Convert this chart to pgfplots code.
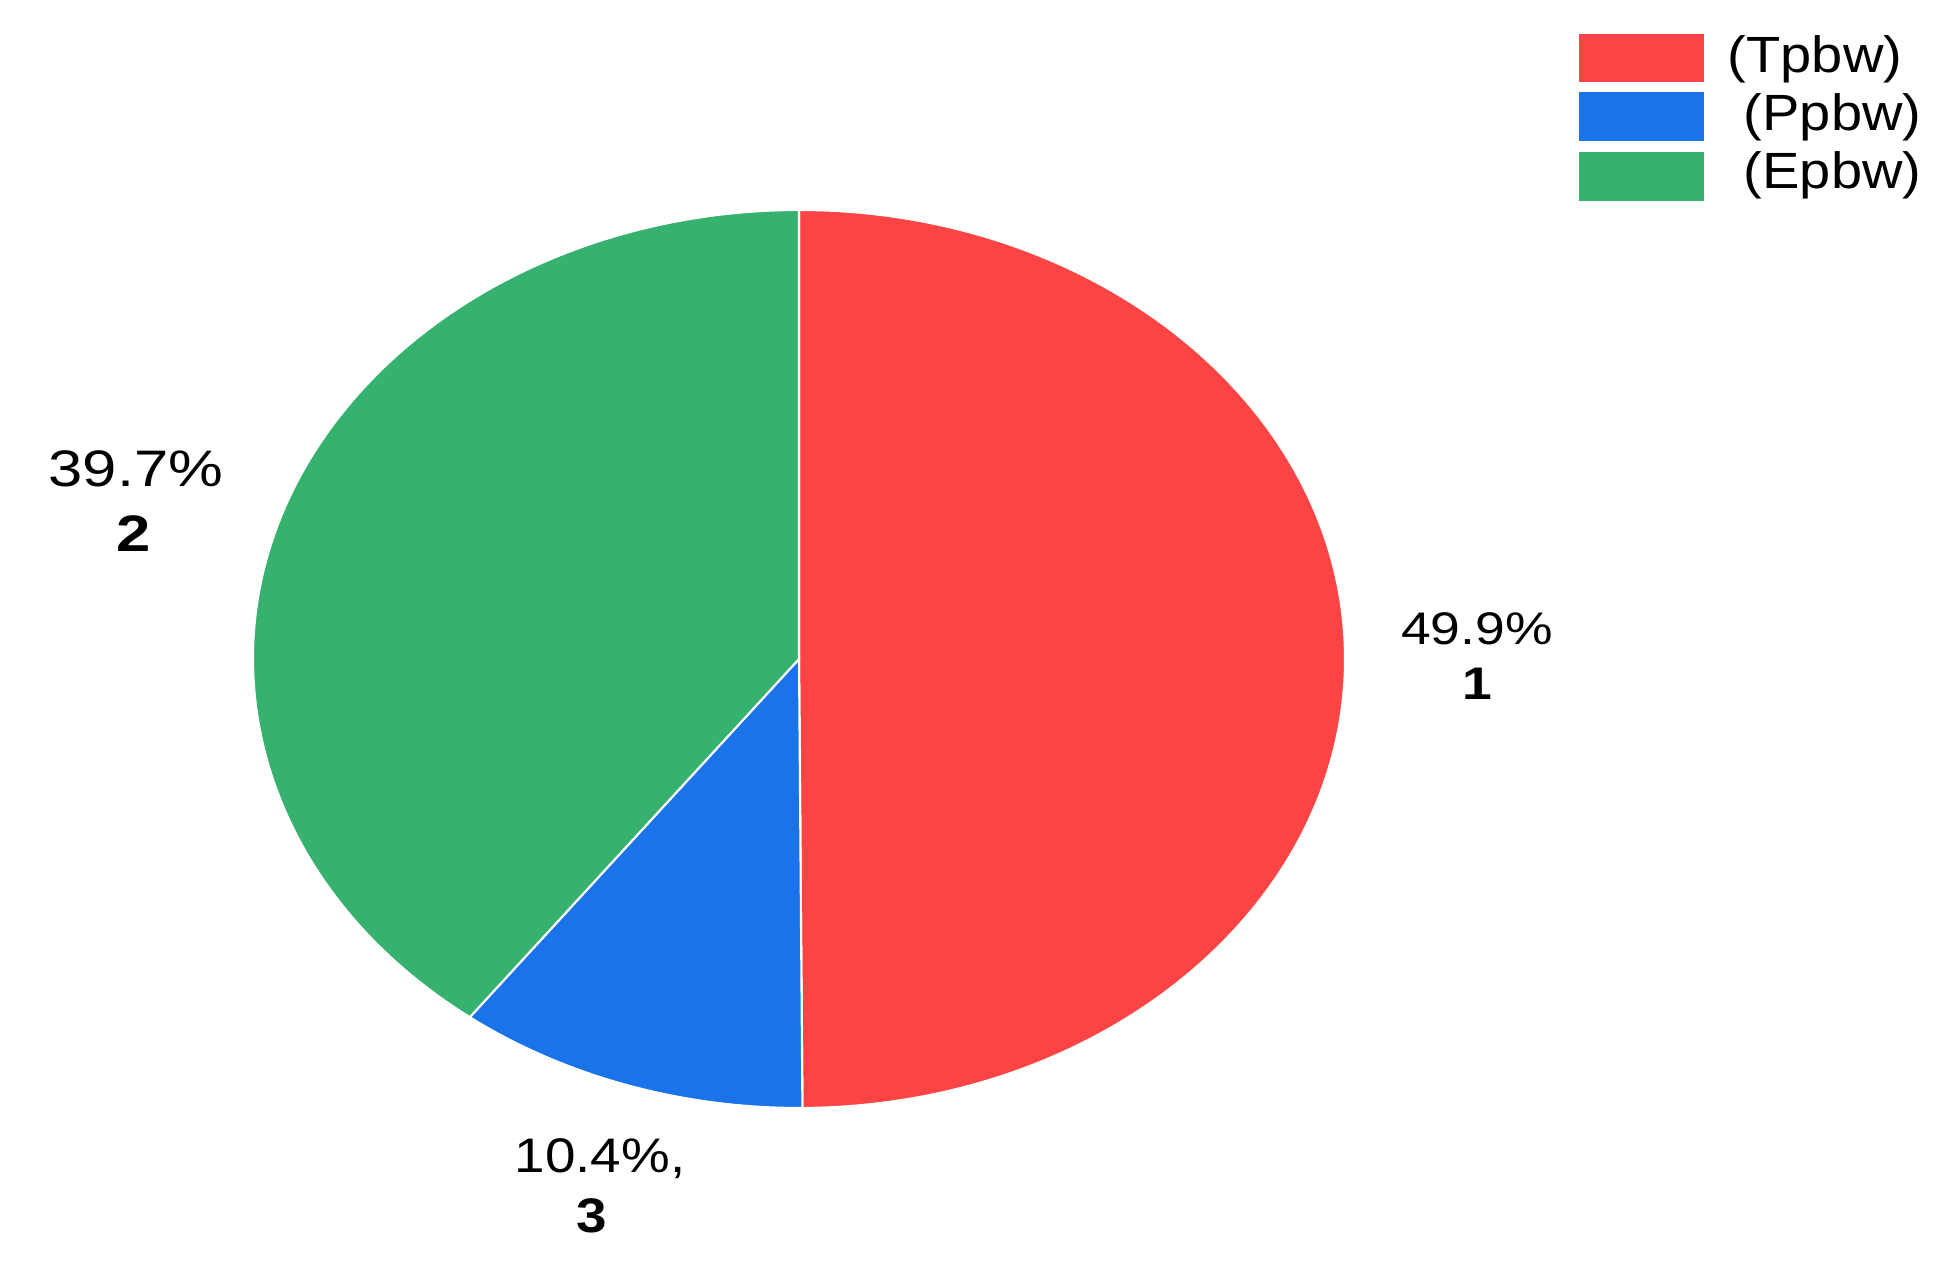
\documentclass[border=0pt]{standalone}
\usepackage{fontspec}
\setmainfont{Liberation Sans}
\usepackage{pgfplots}
\usepackage{pgfplotstable}
\pgfplotsset{compat=1.18}
\definecolor{cred}{HTML}{FC4444}
\definecolor{cblue}{HTML}{1A73E8}
\definecolor{cgreen}{HTML}{36B26E}
\pgfplotstableread{
label pct
1 49.9
3 10.4
2 39.7
}\datatable
\begin{document}
\begin{tikzpicture}
\pgfplotstablegetelem{0}{pct}\of\datatable \let\pa\pgfplotsretval
\pgfplotstablegetelem{1}{pct}\of\datatable \let\pb\pgfplotsretval
\pgfplotstablegetelem{2}{pct}\of\datatable \let\pc\pgfplotsretval
\pgfmathsetmacro{\aA}{90}
\pgfmathsetmacro{\aB}{90-3.6*\pa}
\pgfmathsetmacro{\aC}{\aB-3.6*\pb}
\pgfmathsetmacro{\aD}{\aC-3.6*\pc}
\begin{axis}[scale only axis, width=19.57cm, height=12.76cm,
  xmin=0, xmax=1957, ymin=0, ymax=1276, hide axis, clip=false]
\path (axis cs:0,0) rectangle (axis cs:1957,1276);
\fill[cred, draw=white, line width=0.6pt] (axis cs:799,617) -- (axis cs:{799+546*cos(\aA)},{617+449*sin(\aA)}) arc[start angle=\aA, end angle=\aB, x radius=5.46cm, y radius=4.49cm] -- cycle;
\fill[cblue, draw=white, line width=0.6pt] (axis cs:799,617) -- (axis cs:{799+546*cos(\aB)},{617+449*sin(\aB)}) arc[start angle=\aB, end angle=\aC, x radius=5.46cm, y radius=4.49cm] -- cycle;
\fill[cgreen, draw=white, line width=0.6pt] (axis cs:799,617) -- (axis cs:{799+546*cos(\aC)},{617+449*sin(\aC)}) arc[start angle=\aC, end angle=\aD, x radius=5.46cm, y radius=4.49cm] -- cycle;
\node[anchor=base, inner sep=0pt, xscale=1.17, font=\fontsize{13}{15}\selectfont] at (axis cs:1477,631) {49.9\%};
\node[anchor=base, inner sep=0pt, xscale=1.17, font=\fontsize{13}{15}\selectfont\bfseries] at (axis cs:1477,576) {1};
\node[anchor=base, inner sep=0pt, xscale=1.2, font=\fontsize{14.6}{17}\selectfont] at (axis cs:136,789) {39.7\%};
\node[anchor=base, inner sep=0pt, xscale=1.2, font=\fontsize{14.6}{17}\selectfont\bfseries] at (axis cs:134,724) {2};
\node[anchor=base, inner sep=0pt, xscale=1.13, font=\fontsize{13.8}{16}\selectfont] at (axis cs:600,103) {10.4\%,};
\node[anchor=base, inner sep=0pt, xscale=1.13, font=\fontsize{13.8}{16}\selectfont\bfseries] at (axis cs:592,43) {3};
\fill[cred] (axis cs:1579,1194) rectangle (axis cs:1704,1242);
\fill[cblue] (axis cs:1579,1135) rectangle (axis cs:1704,1184);
\fill[cgreen] (axis cs:1579,1075) rectangle (axis cs:1704,1124);
\node[anchor=west, inner sep=0pt, xscale=1.1, font=\fontsize{14.5}{17}\selectfont] at (axis cs:1727,1217) {(Tpbw)};
\node[anchor=west, inner sep=0pt, xscale=1.1, font=\fontsize{14.5}{17}\selectfont] at (axis cs:1743,1159) {(Ppbw)};
\node[anchor=west, inner sep=0pt, xscale=1.1, font=\fontsize{14.5}{17}\selectfont] at (axis cs:1743,1101) {(Epbw)};
\end{axis}
\end{tikzpicture}
\end{document}
